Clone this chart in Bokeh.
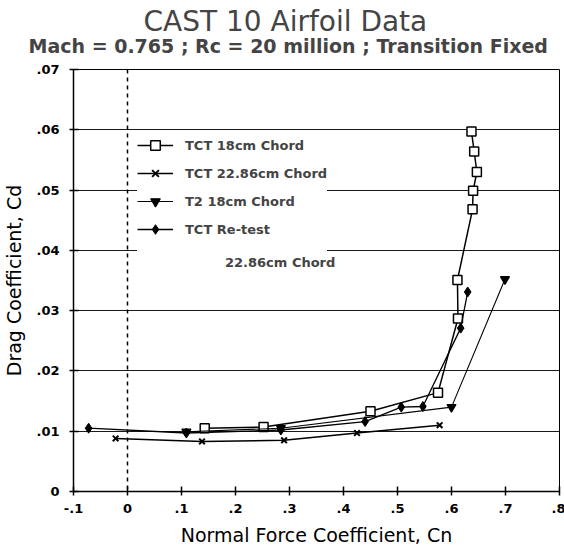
from bokeh.plotting import figure
from bokeh.models import (Range1d, FixedTicker, CustomJSTickFormatter, Span, Legend,
                          LegendItem, Title)
from bokeh.embed import file_html
from bokeh.resources import INLINE

# ---- data ----
tct18_cn = [0.143, 0.252, 0.450, 0.575, 0.612, 0.611, 0.639, 0.640, 0.647, 0.642, 0.637]
tct18_cd = [0.0105, 0.0107, 0.0133, 0.0164, 0.0287, 0.0351, 0.0468, 0.0499, 0.0530, 0.0564, 0.0597]

tct2286_cn = [-0.022, 0.138, 0.290, 0.425, 0.578]
tct2286_cd = [0.0088, 0.0083, 0.0085, 0.0097, 0.0110]

t2_cn = [0.109, 0.284, 0.600, 0.699]
t2_cd = [0.0099, 0.0105, 0.0140, 0.0352]

retest_cn = [-0.072, 0.109, 0.284, 0.440, 0.507, 0.547, 0.617, 0.630]
retest_cd = [0.0105, 0.0097, 0.0102, 0.0116, 0.0140, 0.0141, 0.0271, 0.0331]

x_tick_vals = [-0.1, 0.0, 0.1, 0.2, 0.3, 0.4, 0.5, 0.6, 0.7, 0.8]
x_tick_labels = ["-.1", "0", ".1", ".2", ".3", ".4", ".5", ".6", ".7", ".8"]
y_tick_vals = [0.0, 0.01, 0.02, 0.03, 0.04, 0.05, 0.06, 0.07]
y_tick_labels = ["0", ".01", ".02", ".03", ".04", ".05", ".06", ".07"]

series_names = ["TCT 18cm Chord", "TCT 22.86cm Chord", "T2 18cm Chord", "TCT Re-test"]
extra_legend_line = "22.86cm Chord"
title_text = "CAST 10 Airfoil Data"
subtitle_text = "Mach = 0.765 ; Rc = 20 million ; Transition Fixed"

FONT = "DejaVu Sans"

p = figure(frame_width=486, frame_height=422, output_backend="svg", toolbar_location=None,
           x_range=Range1d(-0.1, 0.8), y_range=Range1d(0, 0.07),
           min_border_left=70, min_border_right=6, min_border_top=69, min_border_bottom=53)
p.background_fill_color = "white"
p.border_fill_color = "white"
p.outline_line_color = "black"
p.outline_line_width = 1

# titles
p.add_layout(Title(text=subtitle_text, text_font=FONT, text_font_size="19px",
                   text_font_style="bold", align="left", offset=-45, standoff=26), "above")
p.add_layout(Title(text=title_text, text_font=FONT, text_font_size="28px",
                   text_font_style="normal", align="left", offset=70, standoff=-36), "above")

# axes
fmt_code = """
const i = vals.findIndex(v => Math.abs(v - tick) < 1e-9);
return i >= 0 ? labels[i] : "";
"""
p.xaxis.ticker = FixedTicker(ticks=x_tick_vals)
p.yaxis.ticker = FixedTicker(ticks=y_tick_vals)
p.xaxis.formatter = CustomJSTickFormatter(args=dict(vals=x_tick_vals, labels=x_tick_labels), code=fmt_code)
p.yaxis.formatter = CustomJSTickFormatter(args=dict(vals=y_tick_vals, labels=y_tick_labels), code=fmt_code)
for ax in (p.xaxis, p.yaxis):
    ax.major_tick_in = 5
    ax.major_tick_out = 4
    ax.minor_tick_line_color = None
    ax.major_tick_line_color = "black"
    ax.major_tick_line_width = 1.5
    ax.axis_line_color = "black"
    ax.axis_line_width = 1.5
    ax.major_label_text_font = FONT
    ax.major_label_text_font_style = "bold"
    ax.major_label_text_font_size = "13px"
    ax.major_label_text_color = "black"
    ax.axis_label_text_font = FONT
    ax.axis_label_text_font_style = "normal"
    ax.axis_label_text_font_size = "19px"
    ax.axis_label_text_color = "black"
p.xaxis.axis_label = "Normal Force Coefficient, Cn"
p.yaxis.axis_label = "Drag Coefficient, Cd"
p.xaxis.major_label_standoff = 8
p.xaxis.axis_label_standoff = 8
p.yaxis.major_label_standoff = 10
p.yaxis.axis_label_standoff = 8

p.xgrid.grid_line_color = None
p.ygrid.ticker = FixedTicker(ticks=y_tick_vals)
p.ygrid.grid_line_color = "black"
p.ygrid.grid_line_width = 1
p.ygrid.grid_line_alpha = 0.9

p.add_layout(Span(location=0, dimension="height", line_color="black",
                  line_dash="4 4", line_width=1.5))

# series
l1 = p.line(tct18_cn, tct18_cd, line_color="black", line_width=1.5)
s1 = p.scatter(tct18_cn, tct18_cd, marker="square", size=9, line_color="black",
               fill_color="white", line_width=1.5)

l2 = p.line(tct2286_cn, tct2286_cd, line_color="black", line_width=1.5)
s2 = p.scatter(tct2286_cn, tct2286_cd, marker="x", size=8, line_color="black", line_width=2)

l3 = p.line(t2_cn, t2_cd, line_color="black", line_width=1.1)
s3 = p.scatter(t2_cn, t2_cd, marker="inverted_triangle", size=9, line_color="black",
               fill_color="black", line_width=1.2)

l4 = p.line(retest_cn, retest_cd, line_color="black", line_width=1.3)
s4 = p.scatter(retest_cn, retest_cd, marker="diamond", size=10, line_color="black",
               fill_color="black", line_width=1)

dummy = p.line([], [], line_alpha=0)

legend_style = dict(label_text_font=FONT, label_text_font_style="bold",
                    label_text_font_size="13px", border_line_color=None,
                    label_height=24, glyph_height=24, spacing=4)

legend = Legend(items=[
    LegendItem(label=series_names[0], renderers=[l1, s1]),
    LegendItem(label=series_names[1], renderers=[l2, s2]),
    LegendItem(label=series_names[2], renderers=[l3, s3]),
    LegendItem(label=series_names[3], renderers=[l4, s4]),
    LegendItem(label="\u00a0", renderers=[dummy]),
], location="top_left", margin=64, padding=3, glyph_width=36, label_standoff=12,
    background_fill_color="white", background_fill_alpha=1.0, **legend_style)
p.add_layout(legend)

# indented second line of the last legend entry
legend2 = Legend(items=[LegendItem(label=extra_legend_line, renderers=[dummy])],
                 location=(152, 217), margin=0, padding=0, glyph_width=0, label_standoff=0,
                 background_fill_alpha=0.0, **legend_style)
p.add_layout(legend2)

open("out.html", "w").write(file_html(p, INLINE))
